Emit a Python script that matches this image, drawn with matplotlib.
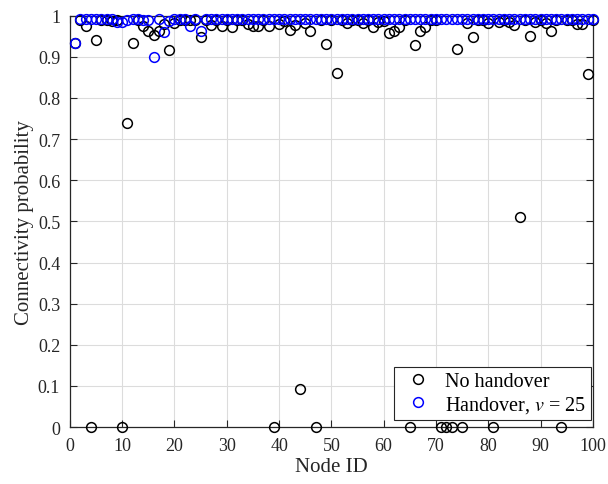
import numpy as np
import matplotlib
matplotlib.use('Agg')
import matplotlib.pyplot as plt
from matplotlib.ticker import FormatStrFormatter

plt.rcParams['font.family'] = ['Liberation Serif', 'DejaVu Serif']
plt.rcParams['mathtext.fontset'] = 'stix'

node_id = np.arange(1, 101)

# connectivity probability without handover
p_no_handover = [
    0.934, 0.99, 0.976, 0.0, 0.941, 0.99, 0.99, 0.986, 0.99, 0.0,
    0.739, 0.934, 0.99, 0.976, 0.964, 0.954, 0.962, 0.98, 0.917, 0.983,
    0.99, 0.99, 0.99, 0.99, 0.948, 0.99, 0.978, 0.99, 0.975, 0.99,
    0.972, 0.99, 0.99, 0.98, 0.976, 0.975, 0.99, 0.976, 0.0, 0.98,
    0.986, 0.966, 0.978, 0.092, 0.983, 0.962, 0.0, 0.99, 0.932, 0.989,
    0.861, 0.99, 0.983, 0.99, 0.99, 0.983, 0.99, 0.972, 0.985, 0.986,
    0.958, 0.962, 0.972, 0.99, 0.0, 0.929, 0.964, 0.972, 0.99, 0.99,
    0.0, 0.0, 0.0, 0.918, 0.0, 0.983, 0.948, 0.99, 0.99, 0.983,
    0.0, 0.985, 0.99, 0.985, 0.978, 0.511, 0.99, 0.951, 0.985, 0.99,
    0.983, 0.964, 0.99, 0.0, 0.99, 0.99, 0.98, 0.98, 0.859, 0.99,
]

# connectivity probability with handover, v = 25
p_handover = [
    0.934, 0.993, 0.993, 0.993, 0.993, 0.993, 0.993, 0.993, 0.985, 0.985,
    0.99, 0.993, 0.993, 0.99, 0.99, 0.899, 0.993, 0.96, 0.986, 0.993,
    0.993, 0.993, 0.975, 0.993, 0.962, 0.993, 0.993, 0.993, 0.993, 0.993,
    0.993, 0.993, 0.993, 0.993, 0.993, 0.993, 0.993, 0.993, 0.993, 0.993,
    0.993, 0.993, 0.993, 0.993, 0.993, 0.993, 0.993, 0.993, 0.993, 0.993,
    0.993, 0.993, 0.993, 0.993, 0.993, 0.993, 0.993, 0.993, 0.993, 0.993,
    0.993, 0.993, 0.993, 0.993, 0.993, 0.993, 0.993, 0.993, 0.993, 0.993,
    0.993, 0.993, 0.993, 0.993, 0.993, 0.993, 0.993, 0.993, 0.993, 0.993,
    0.993, 0.993, 0.993, 0.993, 0.993, 0.993, 0.993, 0.993, 0.993, 0.993,
    0.993, 0.993, 0.993, 0.993, 0.993, 0.993, 0.993, 0.993, 0.993, 0.993,
]

fig = plt.figure(figsize=(6.08, 4.85), dpi=100)
ax = fig.add_axes([0.115, 0.1175, 0.86, 0.848])

ax.plot(node_id, p_no_handover, 'o', mfc='none', mec='black', ms=7, mew=1.1,
        label='No handover', clip_on=False, zorder=3)
ax.plot(node_id, p_handover, 'o', mfc='none', mec='blue', ms=7, mew=1.1,
        label=r'Handover, $v$ = 25', clip_on=False, zorder=3)

ax.set_xlim(0, 100)
ax.set_ylim(0, 1)
ax.set_xticks(np.arange(0, 101, 10))
ax.set_yticks(np.arange(0, 1.01, 0.1))
ax.yaxis.set_major_formatter(FormatStrFormatter('%g'))
ax.grid(True, color='#dcdcdc', linewidth=0.8)
ax.set_axisbelow(True)
ax.tick_params(direction='in', top=True, right=True, labelsize=13,
               colors='#262626', length=5)
ax.tick_params(axis='x', pad=7)
ax.tick_params(axis='y', pad=7)
for s in ax.spines.values():
    s.set_color('#262626')
    s.set_linewidth(0.9)

ax.set_xlabel('Node ID', fontsize=15, color='#262626', labelpad=2)
ax.set_ylabel('Connectivity probability', fontsize=15, color='#262626', labelpad=3)

leg = ax.legend(loc='lower right', bbox_to_anchor=(0.997, 0.018), borderaxespad=0,
                fontsize=14.5, fancybox=False, framealpha=1,
                edgecolor='#262626', handletextpad=0.4,
                handlelength=1.9, borderpad=0.25, labelspacing=0.15)
leg.get_frame().set_linewidth(0.8)

fig.savefig('out.png', dpi=100)
